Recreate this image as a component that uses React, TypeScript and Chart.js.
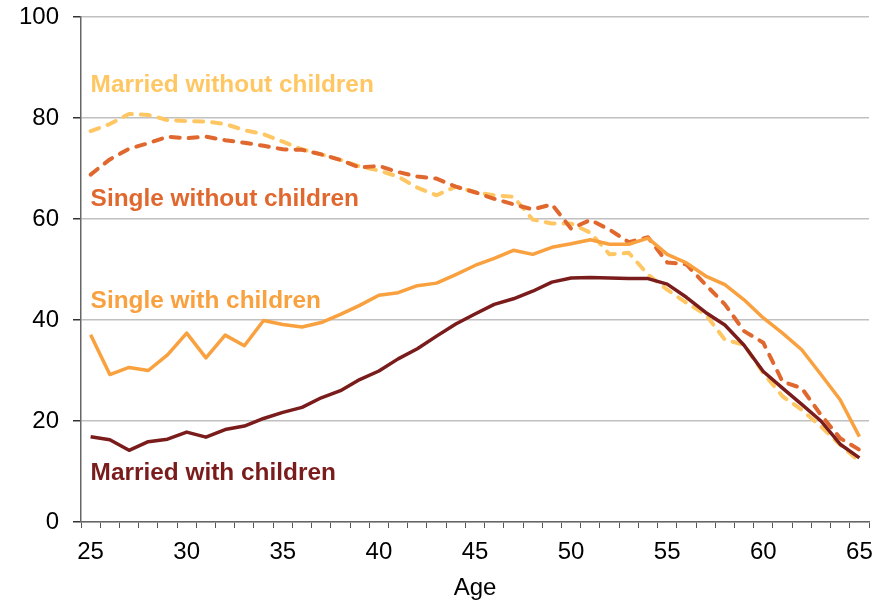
import React, { useEffect, useRef } from "react";
import { Chart, registerables } from "chart.js";

Chart.register(...registerables);

const ages: string[] = [];
for (let a = 25; a <= 65; a++) ages.push(String(a));

const marriedWithout = [77.4, 78.8, 80.8, 80.6, 79.6, 79.4, 79.3, 78.8, 77.6, 76.8, 75.3, 73.8, 72.8, 71.7, 70.4, 69.6, 68.4, 66.2, 64.7, 66.4, 65.3, 64.7, 64.4, 59.9, 59.1, 59.1, 57.3, 53.0, 53.3, 49.0, 46.0, 43.4, 41.1, 36.1, 35.1, 29.5, 24.9, 22.2, 18.9, 15.3, 12.0];
const singleWithout = [68.8, 71.8, 73.9, 75.0, 76.3, 76.0, 76.3, 75.6, 75.1, 74.5, 73.8, 73.7, 72.8, 71.7, 70.2, 70.5, 69.3, 68.4, 68.0, 66.4, 65.3, 64.0, 62.9, 61.9, 62.9, 58.1, 59.8, 57.9, 55.4, 56.4, 51.4, 51.0, 47.0, 43.1, 37.8, 35.5, 27.8, 26.5, 21.2, 16.6, 14.3];
const singleWith = [37.1, 29.2, 30.6, 30.0, 33.1, 37.4, 32.5, 37.0, 34.9, 39.9, 39.1, 38.6, 39.5, 41.1, 42.9, 44.9, 45.4, 46.8, 47.3, 49.0, 50.8, 52.2, 53.8, 53.0, 54.4, 55.1, 55.9, 55.0, 55.0, 56.2, 53.0, 51.3, 48.7, 47.0, 44.0, 40.4, 37.4, 34.1, 29.2, 24.2, 16.9];
const marriedWith = [16.9, 16.3, 14.2, 15.9, 16.4, 17.8, 16.8, 18.3, 19.0, 20.5, 21.7, 22.7, 24.6, 26.0, 28.2, 29.9, 32.3, 34.3, 36.8, 39.2, 41.2, 43.1, 44.2, 45.7, 47.5, 48.3, 48.4, 48.3, 48.2, 48.2, 47.1, 44.5, 41.5, 39.0, 35.0, 29.8, 26.5, 23.3, 20.0, 15.4, 12.7];

const seriesNames = ["Married without children", "Single without children", "Single with children", "Married with children"];
const seriesColors = ["#FFC763", "#E0682E", "#F9A03F", "#7A1C1C"];
// label anchors in data units (y value of text baseline)
const labelBaselineValues = [85.1, 62.5, 42.4, 8.3];

const FONT = "'Liberation Sans', Arial, sans-serif";

const labelPlugin = {
  id: "seriesLabels",
  afterDatasetsDraw(chart: any) {
    const { ctx, scales } = chart;
    const x = scales.x.getPixelForValue(0);
    ctx.save();
    ctx.font = `bold 24.4px ${FONT}`;
    ctx.textAlign = "left";
    ctx.textBaseline = "alphabetic";
    seriesNames.forEach((name, i) => {
      ctx.fillStyle = seriesColors[i];
      ctx.fillText(name, x, scales.y.getPixelForValue(labelBaselineValues[i]));
    });
    ctx.restore();
  },
};

export default function App() {
  const ref = useRef<HTMLCanvasElement | null>(null);
  useEffect(() => {
    if (!ref.current) return;
    const ds = (data: number[], i: number, dashed: boolean) => ({
      label: seriesNames[i],
      data,
      borderColor: seriesColors[i],
      backgroundColor: seriesColors[i],
      borderWidth: dashed ? 4 : 3.5,
      borderDash: dashed ? [9, 9] : [],
      borderCapStyle: dashed ? "round" : "butt",
      borderJoinStyle: "round",
      pointRadius: 0,
      tension: 0,
      fill: false,
    });
    const chart = new Chart(ref.current, {
      type: "line",
      data: {
        labels: ages,
        datasets: [
          ds(marriedWith, 3, false),
          ds(singleWith, 2, false),
          ds(singleWithout, 1, true),
          ds(marriedWithout, 0, true),
        ],
      },
      options: {
        animation: false,
        responsive: false,
        maintainAspectRatio: false,
        layout: { padding: { top: 17, right: 21, left: 0, bottom: 0 } },
        plugins: { legend: { display: false }, tooltip: { enabled: false } },
        scales: {
          x: {
            type: "category",
            offset: true,
            grid: {
              offset: true,
              drawOnChartArea: false,
              drawTicks: true,
              tickLength: 6,
              tickColor: "#555555",
              color: "#555555",
            },
            border: { display: true, color: "#666666", width: 1.5 },
            ticks: {
              autoSkip: false,
              maxRotation: 0,
              padding: 10,
              color: "#000000",
              font: { family: FONT, size: 24 },
              callback: (_v: any, i: number) => (Number(ages[i]) % 5 === 0 ? ages[i] : ""),
            },
            title: {
              display: true,
              text: "Age",
              color: "#000000",
              font: { family: FONT, size: 24, lineHeight: 1.0 },
              padding: { top: 0, bottom: 1 },
            },
            afterFit: (s: any) => {
              s.height = 79;
            },
          },
          y: {
            min: 0,
            max: 100,
            ticks: {
              stepSize: 20,
              padding: 14,
              color: "#000000",
              font: { family: FONT, size: 24 },
            },
            grid: {
              color: "#C0C0C0",
              lineWidth: 1.5,
              tickLength: 8,
              tickColor: "#333333",
            },
            border: { display: true, color: "#666666", width: 1.5 },
            afterFit: (s: any) => {
              s.width = 81;
              s.paddingTop = 0;
              s.paddingBottom = 0;
            },
          },
        },
      },
      plugins: [labelPlugin],
    } as any);
    return () => chart.destroy();
  }, []);
  return (
    <div style={{ position: "absolute", left: 0, top: 0, width: 890, height: 601, background: "#fff" }}>
      <canvas ref={ref} width={890} height={601} style={{ width: 890, height: 601 }} />
    </div>
  );
}
